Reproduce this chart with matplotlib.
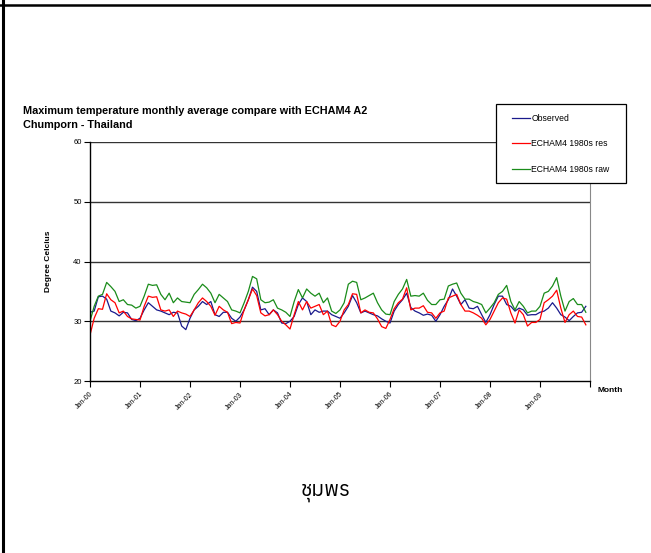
import matplotlib
matplotlib.use('Agg')
import matplotlib.pyplot as plt
from matplotlib import font_manager, ft2font
from matplotlib.lines import Line2D
from matplotlib.patches import Rectangle

# monthly values Jan-00 .. Dec-09
observed = [31.5, 31.7, 34.1, 34.2, 33.7, 31.7, 31.4, 30.9, 31.5, 31.4, 30.3, 30.1,
            30.5, 31.9, 33.1, 32.5, 31.9, 31.7, 31.4, 31.1, 31.5, 31.4, 29.2, 28.6,
            30.5, 31.9, 32.5, 33.3, 32.8, 33.3, 31.1, 30.8, 31.5, 31.5, 30.5, 30.0,
            30.7, 31.9, 33.6, 35.7, 35.0, 31.9, 32.1, 31.1, 31.9, 31.4, 29.7, 29.6,
            30.0, 30.8, 32.8, 33.9, 33.3, 31.1, 31.9, 31.5, 31.7, 31.7, 31.1, 30.8,
            30.5, 31.4, 32.5, 34.3, 33.1, 31.4, 31.7, 31.4, 31.1, 30.9, 30.4, 30.0,
            29.7, 31.7, 32.8, 33.6, 34.7, 32.3, 31.7, 31.4, 31.0, 31.2, 31.0, 30.0,
            31.1, 32.5, 33.6, 35.4, 34.2, 32.8, 33.6, 32.2, 32.1, 32.5, 31.1, 29.8,
            31.1, 32.8, 34.2, 34.2, 32.8, 32.5, 31.7, 32.2, 31.9, 31.0, 31.1, 31.1,
            31.5, 31.7, 32.2, 33.1, 32.2, 31.1, 30.7, 30.1, 30.8, 31.4, 31.5, 32.5]

echam_res = [27.7, 30.5, 32.1, 32.0, 34.6, 33.6, 33.1, 31.4, 31.7, 30.8, 30.4, 30.3,
             30.2, 32.5, 34.2, 34.0, 34.1, 31.9, 31.7, 31.9, 30.8, 31.7, 31.4, 31.2,
             30.8, 31.9, 33.1, 33.9, 33.3, 32.5, 31.0, 32.5, 31.9, 31.5, 29.6, 29.8,
             29.7, 31.9, 33.6, 35.4, 34.3, 31.4, 30.9, 31.1, 31.9, 31.1, 30.0, 29.4,
             28.7, 31.1, 33.3, 31.9, 33.3, 32.2, 32.5, 32.8, 31.1, 31.7, 29.4, 29.1,
             30.0, 31.9, 32.8, 34.6, 34.5, 31.4, 31.9, 31.5, 31.4, 30.4, 29.1, 28.8,
             30.3, 32.1, 33.1, 33.7, 35.6, 31.9, 32.2, 32.2, 32.6, 31.5, 31.4, 30.5,
             31.4, 31.7, 33.9, 34.2, 34.5, 32.8, 31.7, 31.7, 31.4, 31.0, 30.5, 29.4,
             30.3, 31.7, 33.1, 33.9, 33.7, 31.4, 29.7, 31.9, 31.1, 29.2, 29.8, 29.8,
             30.3, 33.1, 33.6, 34.2, 35.2, 32.2, 29.8, 31.1, 31.7, 30.8, 30.7, 29.4]

echam_raw = [30.0, 32.5, 34.2, 34.5, 36.5, 35.8, 35.0, 33.3, 33.6, 32.8, 32.7, 32.2,
             32.5, 34.2, 36.2, 36.0, 36.1, 34.5, 33.6, 34.7, 33.1, 33.9, 33.3, 33.2,
             33.1, 34.5, 35.3, 36.2, 35.6, 34.7, 33.1, 34.5, 33.9, 33.3, 31.9, 31.7,
             31.4, 33.1, 35.0, 37.5, 37.1, 33.6, 33.1, 33.2, 33.6, 32.2, 31.9, 31.5,
             30.8, 33.3, 35.3, 33.9, 35.4, 34.7, 34.2, 34.7, 33.1, 33.9, 31.7, 31.3,
             31.9, 33.1, 36.2, 36.7, 36.5, 33.6, 33.9, 34.3, 34.7, 33.1, 31.9, 31.2,
             31.1, 33.3, 34.5, 35.4, 37.0, 34.2, 34.3, 34.2, 34.7, 33.5, 32.8, 32.8,
             33.6, 33.7, 35.9, 36.2, 36.4, 34.7, 33.7, 33.7, 33.3, 33.1, 32.8, 31.4,
             32.2, 33.1, 34.5, 35.0, 36.0, 33.3, 31.9, 33.3, 32.5, 31.4, 31.7, 31.7,
             32.5, 34.7, 35.0, 35.9, 37.3, 34.2, 31.7, 33.3, 33.8, 32.8, 32.8, 31.5]

tick_labels = ['Jan-00', 'Jan-01', 'Jan-02', 'Jan-03', 'Jan-04',
               'Jan-05', 'Jan-06', 'Jan-07', 'Jan-08', 'Jan-09']
series_names = ['Observed', 'ECHAM4 1980s res', 'ECHAM4 1980s raw']


def thai_family():
    # หา font ที่มีตัวอักษรไทย เลือกน้ำหนักใกล้ regular
    found = []
    for f in font_manager.fontManager.ttflist:
        try:
            if 0x0E0A in ft2font.FT2Font(f.fname).get_charmap() and f.style == 'normal':
                w = f.weight if isinstance(f.weight, int) else 400
                found.append((abs(w - 380), w, f.name))
        except Exception:
            pass
    if not found:
        return 'DejaVu Sans', 400
    found.sort()
    return found[0][2], found[0][1]


plt.rcParams['font.family'] = ['Liberation Sans', 'DejaVu Sans']

W, H = 651, 553
fig = plt.figure(figsize=(W / 100, H / 100), dpi=100)


def fx(px):
    return px / W


def fy(py):
    return 1 - py / H


ax = fig.add_axes([fx(90), fy(381), fx(590) - fx(90), fy(142) - fy(381)])
months = list(range(len(observed)))

ax.plot(months, observed, color='#1a1a8c', lw=0.9, label=series_names[0])
ax.plot(months, echam_res, color='#ff0000', lw=0.9, label=series_names[1])
ax.plot(months, echam_raw, color='#1a8c1a', lw=0.9, label=series_names[2])

ax.set_xlim(0, 120)
ax.set_ylim(20, 60)
ax.set_yticks([20, 30, 40, 50, 60])
ax.set_xticks(range(0, 121, 12))
ax.set_xticklabels(tick_labels + [''], rotation=45, ha='right', va='top',
                   rotation_mode='anchor', fontsize=5)
ax.tick_params(axis='y', labelsize=5.5, length=4, width=0.8, pad=2)
ax.tick_params(axis='x', length=4, width=0.8, pad=3)

for v in [30, 40, 50, 60]:
    ax.axhline(v, color='#333333', lw=1.0, zorder=0)

ax.spines['top'].set_visible(False)
ax.spines['right'].set_color('#888888')
ax.spines['left'].set_linewidth(1.0)
ax.spines['bottom'].set_linewidth(1.0)

ax.set_ylabel('Degree Celcius', fontsize=6, fontweight='bold', labelpad=15)
fig.text(fx(597), fy(391), 'Month', fontsize=6, fontweight='bold', va='center')

fig.text(fx(23), fy(111), 'Maximum temperature monthly average compare with ECHAM4 A2',
         fontsize=7.8, fontweight='bold', va='center')
fig.text(fx(23), fy(125), 'Chumporn - Thailand', fontsize=7.8, fontweight='bold', va='center')

# กรอบ legend
fig.add_artist(Rectangle((fx(496), fy(183)), fx(626) - fx(496), fy(104) - fy(183),
                         transform=fig.transFigure, facecolor='white',
                         edgecolor='black', lw=0.9, zorder=9))
leg = fig.legend(loc='upper left', bbox_to_anchor=(fx(509), fy(111)), fontsize=6.2,
                 frameon=False, handlelength=2.1, handletextpad=0.2,
                 labelspacing=1.95, borderpad=0.3, borderaxespad=0)
leg.set_zorder(10)

thai_name, thai_weight = thai_family()
fig.text(fx(325), fy(493), 'ชุมพร', fontsize=15, ha='center', va='center',
         family=[thai_name, 'DejaVu Sans'], fontweight=thai_weight, color='black')

# เส้นขอบหน้า
fig.add_artist(Line2D([fx(3), fx(3)], [0, 1], color='black', lw=2.2))
fig.add_artist(Line2D([0, 1], [fy(4.5), fy(4.5)], color='black', lw=1.8))

fig.savefig('out.png', dpi=100)
